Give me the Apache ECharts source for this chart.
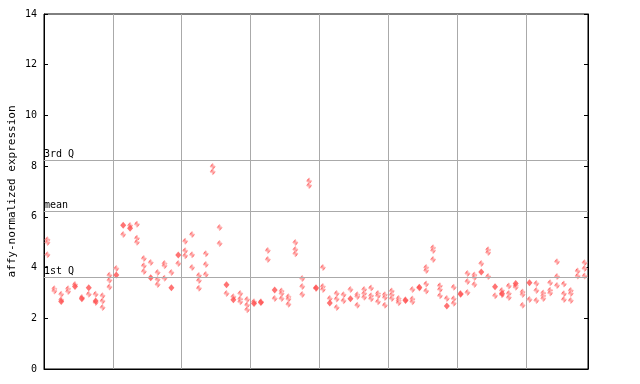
<!DOCTYPE html>
<html><head><meta charset="utf-8">
<script src="https://cdn.jsdelivr.net/npm/echarts@6/dist/echarts.min.js"></script>
<style>html,body{margin:0;padding:0;background:#fff}#c{width:640px;height:384px}</style>
</head><body><div id="c"></div>
<script>
// values per sample column (hatched diamonds)
const sampleValues = [
 [5.10,4.99,4.51],[3.16,3.08],[2.95,2.73],[3.16,3.06],[3.33],[2.82],[2.95],[2.95,2.62],[2.89,2.68,2.43],[3.70,3.50,3.23],
 [3.96],[5.30],[5.66],[5.71,5.16,5.00],[4.36,4.07,3.85],[4.20],[3.81,3.53,3.33],[4.16,4.07,3.58],[3.81],[4.16],
 [5.04,4.66,4.47],[5.30,4.51,4.00],[3.69,3.49,3.18],[4.55,4.12,3.73],[7.99,7.78],[5.58,4.95],[2.98],[2.85],[2.98,2.76,2.65],[2.74,2.52,2.34],
 [2.65],[2.65],[4.67,4.32],[2.78],[3.08,2.98,2.78],[2.85,2.76,2.55],[4.99,4.71,4.55],[3.57,3.25,2.94],[7.41,7.24],[3.17],
 [4.00,3.25,3.14],[2.78],[2.98,2.76,2.43],[2.93,2.69],[3.14],[2.93,2.86,2.51],[3.14,2.98,2.83],[3.19,2.89,2.77],[2.98,2.89,2.65],[2.93,2.82,2.51],
 [3.08,2.93,2.78],[2.78,2.69,2.61],[2.73],[3.14,2.76,2.65],[3.19],[4.00,3.88,3.35,3.08],[4.78,4.67,4.32],[3.28,3.14,2.89],[2.78],[3.22,2.77,2.59],
 [2.98],[3.77,3.45,3.02],[3.71,3.61,3.33],[4.16],[4.70,4.59,3.65],[2.89],[3.10,2.93],[3.27,2.98,2.82],[3.28,3.22],[3.04,2.94,2.51],
 [2.74],[3.37,3.10,2.70],[3.00,2.89,2.78],[3.40,3.11,3.00],[4.23,3.65,3.29],[3.35,2.97,2.74],[3.10,2.98,2.70],[3.86,3.67],[4.19,3.96,3.67]
];
// solid diamonds (column index, value)
const filledCols = [2,4,5,6,7,10,11,12,15,18,19,26,27,30,31,33,39,41,44,52,54,58,60,63,65,66,68,70];
const filledVals = [2.66,3.25,2.77,3.20,2.68,3.71,5.67,5.55,3.60,3.20,4.50,3.32,2.73,2.58,2.62,3.12,3.20,2.60,2.77,2.70,3.22,2.48,2.95,3.83,3.24,2.98,3.37,3.40];
const refLabels = ['3rd Q','mean','1st Q'];
const refValues = [8.22,6.21,3.62];
const yTicks = [0,2,4,6,8,10,12,14];

const red = '#ff5050';
const pc = document.createElement('canvas'); pc.width = 2; pc.height = 2;
const pctx = pc.getContext('2d'); pctx.fillStyle = '#ffffff'; pctx.fillRect(0,0,2,2);
pctx.fillStyle = red; pctx.fillRect(0,0,1,1); pctx.fillRect(1,1,1,1);

const hatched = [];
sampleValues.forEach((vals,i)=>vals.forEach(v=>hatched.push([i+0.5,v])));
const filled = filledCols.map((c,k)=>[c+0.5,filledVals[k]]);

const mono = 'DejaVu Sans Mono';
const chart = echarts.init(document.getElementById('c'));
chart.setOption({
  animation:false,
  grid:{left:44,right:52,top:14,bottom:15,containLabel:false,outerBoundsMode:'none',show:true,borderColor:'#000',borderWidth:1},
  xAxis:{type:'value',min:0,max:sampleValues.length,interval:10,
    axisLine:{show:true,lineStyle:{color:'#000'}},axisTick:{show:false},axisLabel:{show:false},
    splitLine:{show:true,lineStyle:{color:'#aaaaaa',width:1}}},
  yAxis:[{type:'value',min:yTicks[0],max:yTicks[yTicks.length-1],interval:2,
    name:'affy-normalized expression',nameLocation:'middle',nameGap:26,nameMoveOverlap:false,
    nameTextStyle:{fontFamily:mono,fontSize:11,color:'#000'},
    axisLine:{show:true,lineStyle:{color:'#000'}},axisTick:{show:true,inside:true,length:4,lineStyle:{color:'#000'}},
    axisLabel:{fontFamily:mono,fontSize:10,color:'#000',margin:7},splitLine:{show:false}},
   {type:'value',min:yTicks[0],max:yTicks[yTicks.length-1],interval:2,position:'right',
    axisLine:{show:true,lineStyle:{color:'#000'}},axisTick:{show:true,inside:true,length:4,lineStyle:{color:'#000'}},
    axisLabel:{show:false},splitLine:{show:false}}],
  series:[
   {type:'scatter',symbol:'diamond',symbolSize:[6,7],data:hatched,z:3,
    itemStyle:{color:{image:pc,repeat:'repeat'},opacity:1},
    markLine:{silent:true,symbol:'none',animation:false,
      lineStyle:{color:'#aaaaaa',type:'solid',width:1},
      label:{position:'insideStartTop',distance:[0,1],fontFamily:mono,fontSize:10,color:'#000',formatter:p=>p.name,padding:0},
      data:refValues.map((v,i)=>({yAxis:v,name:refLabels[i]}))}},
   {type:'scatter',symbol:'diamond',symbolSize:[6,7],data:filled,z:4,itemStyle:{color:red}}
  ]
});
</script></body></html>
